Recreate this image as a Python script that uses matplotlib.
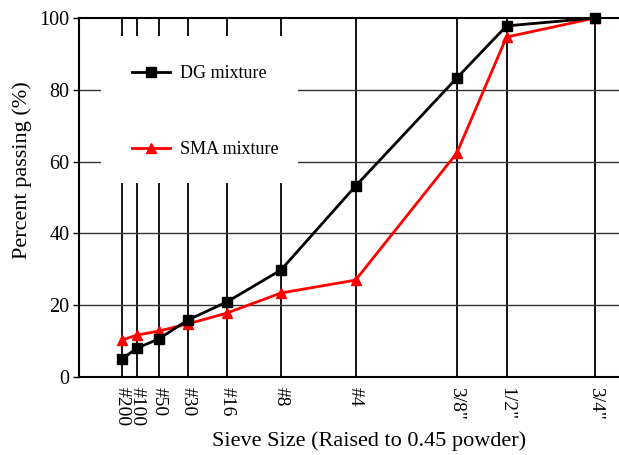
import numpy as np
import matplotlib
matplotlib.use("Agg")
import matplotlib.pyplot as plt
from matplotlib.patches import Rectangle

# sieve openings in mm and their labels
sieve_mm = [0.075, 0.15, 0.3, 0.6, 1.18, 2.36, 4.75, 9.5, 12.5, 19.0]
sieve_labels = ["#200", "#100", "#50", "#30", "#16", "#8", "#4", '3/8"', '1/2"', '3/4"']

dg_passing = [5.0, 8.1, 10.6, 15.9, 20.9, 29.8, 53.2, 83.3, 97.8, 100.0]
sma_passing = [10.3, 11.7, 12.8, 14.8, 17.8, 23.4, 27.0, 62.4, 94.7, 100.0]

plt.rcParams["font.family"] = ["Liberation Serif", "DejaVu Serif"]

x = np.array(sieve_mm) ** 0.45

fig = plt.figure(figsize=(6.19, 4.55), dpi=100)
ax = fig.add_axes([0.1276, 0.1714, 0.8724, 0.789])

ax.set_xlim(0, 3.936)
ax.set_ylim(0, 100)

# vertical sieve lines
for xv in x:
    ax.axvline(xv, color="black", linewidth=1.3, zorder=1)
for yv in [20, 40, 60, 80]:
    ax.axhline(yv, color="#333333", linewidth=1.0, zorder=1)

# white box behind legend
ax.add_patch(Rectangle((0.04, 0.54), 0.365, 0.41, transform=ax.transAxes,
                       facecolor="white", edgecolor="none", zorder=2))

ax.plot(x, dg_passing, color="black", marker="s", markersize=7.5, linewidth=2,
        label="DG mixture", zorder=4, clip_on=False)
ax.plot(x, sma_passing, color="red", marker="^", markersize=7.5, linewidth=2,
        label="SMA mixture", zorder=3, clip_on=False)

ax.set_xticks(x)
ax.set_xticklabels(sieve_labels, rotation=270, fontsize=14, va="top", ha="center")
ax.tick_params(axis="x", length=0, pad=7)
ax.set_yticks([0, 20, 40, 60, 80, 100])
ax.tick_params(axis="y", length=4, width=1, labelsize=14.5, pad=3)

for s in ["left", "bottom", "top"]:
    ax.spines[s].set_linewidth(1.5)
ax.spines["right"].set_visible(False)

ax.set_xlabel("Sieve Size (Raised to 0.45 powder)", fontsize=16)
ax.xaxis.set_label_coords(0.537, -0.152)
ax.set_ylabel("Percent passing (%)", fontsize=16)
ax.yaxis.set_label_coords(-0.087, 0.577)

ax.legend(loc="upper left", bbox_to_anchor=(0.098, 0.868), frameon=False,
          fontsize=13, handlelength=2.1, handletextpad=0.55, labelspacing=3.25,
          borderpad=0, borderaxespad=0)

fig.savefig("out.png", dpi=100)
